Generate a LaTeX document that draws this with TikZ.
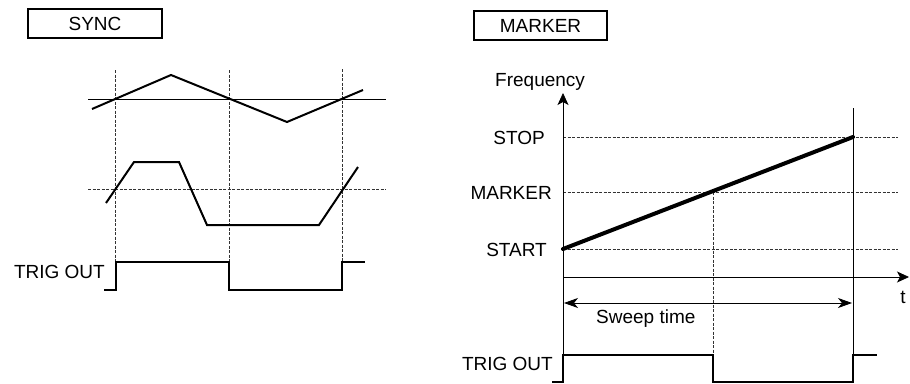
\documentclass[tikz,border=0pt]{standalone}
\usepackage{fontspec}
\setmainfont{Liberation Sans}
\usetikzlibrary{arrows.meta}
\begin{document}
\begin{tikzpicture}[x=1pt,y=-1pt,
  lbl/.style={font=\fontsize{19}{23}\selectfont, inner sep=0pt},
  tagbox/.style={lbl, draw, line width=1.6pt, minimum width=134pt, minimum height=29pt},
  thin/.style={line width=0.8pt},
  guide/.style={line width=0.8pt, dash pattern=on 3pt off 1.5pt, black!80},
  wave/.style={line width=2pt, line join=miter},
  trig/.style={line width=2.5pt, line join=miter},
  sweep/.style={line width=4pt, line cap=round}]
\useasboundingbox (0,0) rectangle (910,383);

% ---------------- SYNC panel ----------------
\node[tagbox] (sync) at (95,23.5) {SYNC};

\coordinate (va) at (115,70);  \coordinate (va2) at (115,262);
\coordinate (vb) at (229,70);  \coordinate (vb2) at (229,262);
\coordinate (vc) at (342,69);  \coordinate (vc2) at (342,262);
\draw[guide] (va) -- (va2);
\draw[guide] (vb) -- (vb2);
\draw[guide] (vc) -- (vc2);

\coordinate (h1a) at (88,99.3); \coordinate (h1b) at (386,99.3);
\draw[thin] (h1a) -- (h1b);
\coordinate (h2a) at (88,189); \coordinate (h2b) at (386,189);
\draw[guide] (h2a) -- (h2b);

% triangle wave
\coordinate (t1) at (92,109);
\coordinate (t2) at (171,75);
\coordinate (t3) at (287,122);
\coordinate (t4) at (363,90);
\draw[wave] (t1) -- (t2) -- (t3) -- (t4);

% trapezoid wave
\coordinate (p1) at (106,203);
\coordinate (p2) at (134,162);
\coordinate (p3) at (179,162);
\coordinate (p4) at (207,225);
\coordinate (p5) at (319,225);
\coordinate (p6) at (358,167);
\draw[wave] (p1) -- (p2) -- (p3) -- (p4) -- (p5) -- (p6);

% trig out
\node[lbl, anchor=base east] (trigL) at (105,278) {TRIG OUT};
\coordinate (s0) at (104,290);
\coordinate (s1) at (116,290);
\coordinate (s2) at (116,262);
\coordinate (s3) at (229,262);
\coordinate (s4) at (229,290);
\coordinate (s5) at (342,290);
\coordinate (s6) at (342,262);
\coordinate (s7) at (365,262);
\draw[trig] (s0) -- (s1) -- (s2) -- (s3) -- (s4) -- (s5) -- (s6) -- (s7);

% ---------------- MARKER panel ----------------
\node[tagbox, minimum width=133pt] (mk) at (540.5,25.5) {MARKER};

\node[lbl, anchor=base west] (freq) at (495,86.5) {Frequency};
\node[lbl, anchor=base] (tlab) at (903,303) {t};

\node[lbl, anchor=base east] (stop) at (545,144) {STOP};
\node[lbl, anchor=base east] (mark) at (552,199) {MARKER};
\node[lbl, anchor=base east] (start) at (547,256) {START};

\coordinate (o) at (563,277);
\coordinate (ytop) at (563,93);
\coordinate (ybot) at (563,355);
\coordinate (xend) at (909,277);

\coordinate (gs1) at (563,137); \coordinate (gs2) at (898,137);
\coordinate (gm1) at (563,192); \coordinate (gm2) at (898,192);
\coordinate (gt1) at (563,249); \coordinate (gt2) at (898,249);
\draw[guide] (gs1) -- (gs2);
\draw[guide] (gm1) -- (gm2);
\draw[guide] (gt1) -- (gt2);

\coordinate (mpt) at (713,192);
\coordinate (mbot) at (713,355);
\draw[guide] (mpt) -- (mbot);

\coordinate (etop) at (853,108);
\coordinate (ebot) at (853,355);
\draw[thin] (etop) -- (ebot);

\draw[thin, -{Stealth[length=12pt,width=11pt,inset=3pt]}] (ybot) -- (ytop);
\draw[thin, -{Stealth[length=12pt,width=11pt,inset=3pt]}] (o) -- (xend);

\coordinate (sw0) at (563,249);
\coordinate (sw1) at (853,137);
\draw[sweep] (sw0) -- (sw1);

\coordinate (ar0) at (564,303);
\coordinate (ar1) at (852,303);
\draw[thin, {Stealth[length=14pt,width=10pt,inset=4pt]}-{Stealth[length=14pt,width=10pt,inset=4pt]}] (ar0) -- (ar1);
\node[lbl, anchor=base west] (swt) at (596,323.6) {Sweep time};

\node[lbl, anchor=base east] (trigR) at (553,370) {TRIG OUT};
\coordinate (r0) at (552,382);
\coordinate (r1) at (563,382);
\coordinate (r2) at (563,355);
\coordinate (r3) at (713,355);
\coordinate (r4) at (713,382);
\coordinate (r5) at (853,382);
\coordinate (r6) at (853,355);
\coordinate (r7) at (877,355);
\draw[trig] (r0) -- (r1) -- (r2) -- (r3) -- (r4) -- (r5) -- (r6) -- (r7);
\end{tikzpicture}
\end{document}
